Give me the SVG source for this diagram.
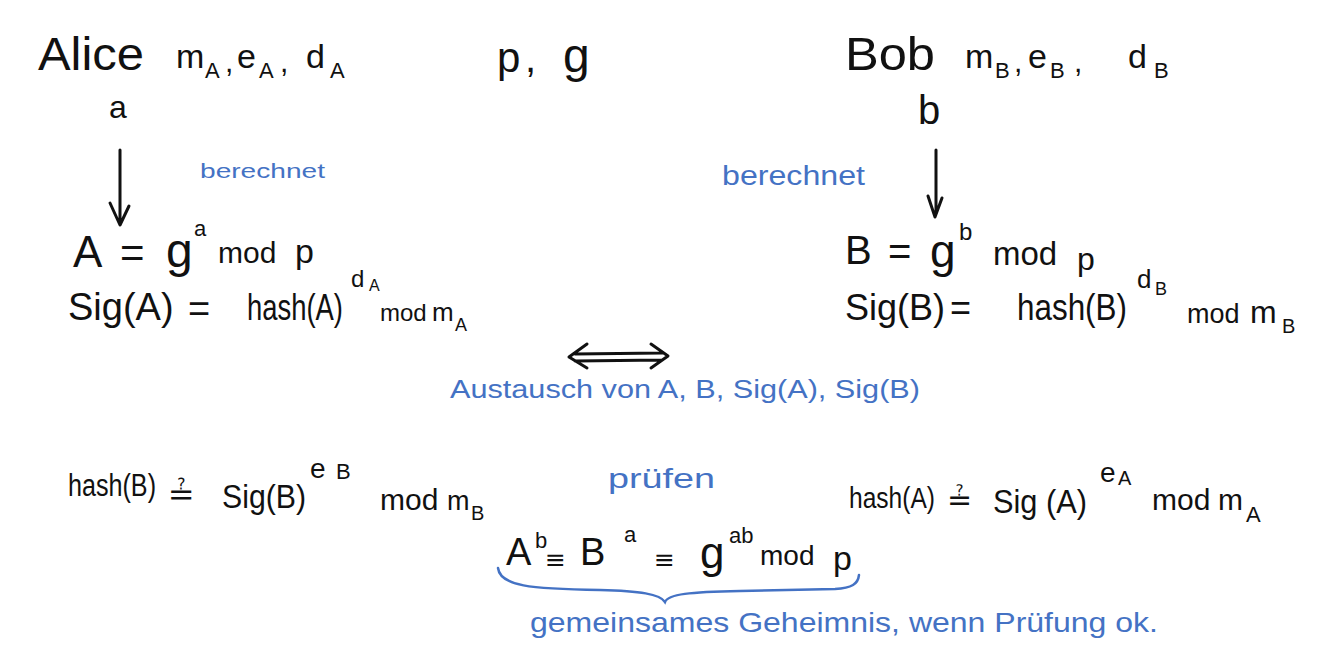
<svg xmlns="http://www.w3.org/2000/svg" width="1342" height="661" viewBox="0 0 1342 661">
<style>
.k{font-family:"Liberation Sans","DejaVu Sans",sans-serif;fill:#111}
.b{font-family:"Liberation Sans","DejaVu Sans",sans-serif;fill:#4472c4}
.s{font-family:"DejaVu Sans",sans-serif;fill:#111}
.ln{stroke:#111;stroke-width:3;fill:none;stroke-linecap:round;stroke-linejoin:round}
.bl{stroke:#4472c4;stroke-width:2.5;fill:none;stroke-linecap:round}
</style>
<rect width="1342" height="661" fill="#fff"/>
<g id="alice">
<text class="k" x="38" y="70" font-size="46" textLength="106" lengthAdjust="spacingAndGlyphs">Alice</text>
<text class="k" x="176" y="68" font-size="34">m</text>
<text class="k" x="205" y="78" font-size="22">A</text>
<text class="k" x="225" y="72" font-size="30">,</text>
<text class="k" x="237" y="68" font-size="34">e</text>
<text class="k" x="259" y="78" font-size="22">A</text>
<text class="k" x="280" y="72" font-size="30">,</text>
<text class="k" x="306" y="68" font-size="34">d</text>
<text class="k" x="330" y="78" font-size="22">A</text>
<text class="k" x="109" y="118" font-size="32">a</text>
</g>
<g id="params">
<text class="k" x="497" y="72" font-size="42">p</text>
<text class="k" x="525" y="72" font-size="40">,</text>
<text class="k" x="563" y="72" font-size="48">g</text>
</g>
<g id="bob">
<text class="k" x="845" y="70" font-size="46" textLength="90" lengthAdjust="spacingAndGlyphs">Bob</text>
<text class="k" x="965" y="68" font-size="34">m</text>
<text class="k" x="995" y="78" font-size="22">B</text>
<text class="k" x="1014" y="72" font-size="30">,</text>
<text class="k" x="1028" y="68" font-size="34">e</text>
<text class="k" x="1050" y="78" font-size="22">B</text>
<text class="k" x="1074" y="72" font-size="30">,</text>
<text class="k" x="1128" y="68" font-size="34">d</text>
<text class="k" x="1154" y="78" font-size="22">B</text>
<text class="k" x="918" y="124" font-size="40">b</text>
</g>
<g id="alice-calc">
<text class="b" x="200" y="178" font-size="21" textLength="125" lengthAdjust="spacingAndGlyphs">berechnet</text>
<text class="k" x="73" y="267" font-size="44">A</text>
<text class="k" x="120" y="267" font-size="42">=</text>
<text class="k" x="166" y="267" font-size="48">g</text>
<text class="k" x="194" y="236" font-size="22">a</text>
<text class="k" x="218" y="263" font-size="30">mod</text>
<text class="k" x="295" y="263" font-size="34">p</text>
<text class="k" x="68" y="320" font-size="38">Sig(A)</text>
<text class="k" x="188" y="322" font-size="38">=</text>
<text class="k" x="247" y="320" font-size="36" textLength="96" lengthAdjust="spacingAndGlyphs">hash(A)</text>
<text class="k" x="351" y="287" font-size="24">d</text>
<text class="k" x="369" y="291" font-size="16">A</text>
<text class="k" x="380" y="321" font-size="24">mod</text>
<text class="k" x="432" y="321" font-size="26">m</text>
<text class="k" x="455" y="331" font-size="18">A</text>
</g>
<g id="bob-calc">
<text class="b" x="722" y="185" font-size="27" textLength="143" lengthAdjust="spacingAndGlyphs">berechnet</text>
<text class="k" x="845" y="264" font-size="40">B</text>
<text class="k" x="888" y="265" font-size="40">=</text>
<text class="k" x="930" y="267" font-size="46">g</text>
<text class="k" x="959" y="240" font-size="24">b</text>
<text class="k" x="993" y="265" font-size="33">mod</text>
<text class="k" x="1077" y="270" font-size="32">p</text>
<text class="k" x="845" y="320" font-size="36">Sig(B)</text>
<text class="k" x="950" y="320" font-size="36">=</text>
<text class="k" x="1017" y="320" font-size="36" textLength="110" lengthAdjust="spacingAndGlyphs">hash(B)</text>
<text class="k" x="1137" y="288" font-size="26">d</text>
<text class="k" x="1155" y="295" font-size="18">B</text>
<text class="k" x="1187" y="323" font-size="27">mod</text>
<text class="k" x="1250" y="323" font-size="32">m</text>
<text class="k" x="1282" y="333" font-size="20">B</text>
</g>
<g id="exchange">
<text class="b" x="450" y="398" font-size="26" textLength="470" lengthAdjust="spacingAndGlyphs">Austausch von  A, B, Sig(A), Sig(B)</text>
</g>
<g id="check-alice">
<text class="k" x="68" y="496" font-size="31" textLength="88" lengthAdjust="spacingAndGlyphs">hash(B)</text>
<text class="s" x="168" y="505" font-size="32">≟</text>
<text class="k" x="222" y="508" font-size="34" textLength="84" lengthAdjust="spacingAndGlyphs">Sig(B)</text>
<text class="k" x="310" y="478" font-size="28">e</text>
<text class="k" x="336" y="479" font-size="22">B</text>
<text class="k" x="380" y="510" font-size="30">mod</text>
<text class="k" x="447" y="510" font-size="27">m</text>
<text class="k" x="471" y="520" font-size="20">B</text>
</g>
<g id="check-label">
<text class="b" x="608" y="488" font-size="28" textLength="107" lengthAdjust="spacingAndGlyphs">prüfen</text>
</g>
<g id="check-bob">
<text class="k" x="849" y="508" font-size="30" textLength="86" lengthAdjust="spacingAndGlyphs">hash(A)</text>
<text class="s" x="947" y="510" font-size="30">≟</text>
<text class="k" x="993" y="513" font-size="34" textLength="94" lengthAdjust="spacingAndGlyphs">Sig (A)</text>
<text class="k" x="1100" y="482" font-size="28">e</text>
<text class="k" x="1118" y="485" font-size="20">A</text>
<text class="k" x="1152" y="510" font-size="30">mod</text>
<text class="k" x="1218" y="510" font-size="30">m</text>
<text class="k" x="1246" y="522" font-size="22">A</text>
</g>
<g id="secret">
<text class="k" x="506" y="565" font-size="38">A</text>
<text class="k" x="535" y="548" font-size="22">b</text>
<text class="s" x="545" y="568" font-size="25">≡</text>
<text class="k" x="580" y="565" font-size="38">B</text>
<text class="k" x="624" y="542" font-size="22">a</text>
<text class="s" x="654" y="568" font-size="25">≡</text>
<text class="k" x="700" y="568" font-size="44">g</text>
<text class="k" x="729" y="543" font-size="22">ab</text>
<text class="k" x="760" y="565" font-size="28">mod</text>
<text class="k" x="833" y="570" font-size="34">p</text>
<text class="b" x="530" y="632" font-size="28" textLength="628" lengthAdjust="spacingAndGlyphs">gemeinsames Geheimnis, wenn Prüfung ok.</text>
</g>
<g id="connectors">
<path class="ln" d="M120 150 L120 223 M110 203 L120 225 L129 206"/>
<path class="ln" d="M936 150 L936 214 M928 196 L935 217 L942 198"/>
<path class="ln" d="M575 354 L662 353 M575 361 L662 360 M587 344 L569 357 L587 368 M651 344 L668 356 L651 368"/>
<path class="bl" d="M498 568 C500 586 530 589 600 590 C640 591 660 594 665 602 C668 594 690 592 740 591 L835 589 C852 588 858 584 859 575"/>
</g>
</svg>
